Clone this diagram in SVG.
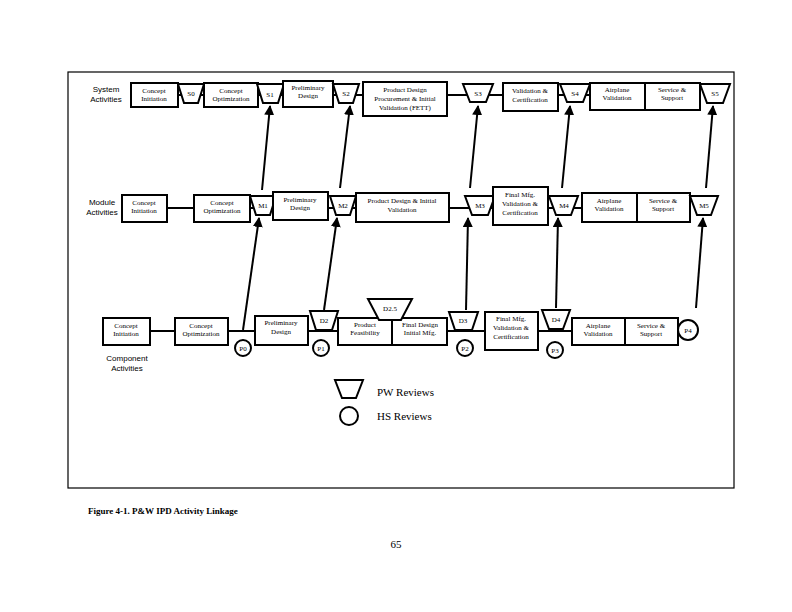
<svg xmlns="http://www.w3.org/2000/svg" width="792" height="612" viewBox="0 0 792 612">
<defs>
<style>
.b{fill:#fff;stroke:#000;stroke-width:2}
.l{stroke:#000;stroke-width:2;fill:none}
.t{font-family:"Liberation Serif",serif;font-size:7px;text-anchor:middle;fill:#000}
.s{font-family:"Liberation Sans",sans-serif;font-size:8px;text-anchor:middle;fill:#000}
</style>
<marker id="a" viewBox="0 0 10 10" refX="9" refY="5" markerWidth="5" markerHeight="5" orient="auto"><path d="M0,0L10,5L0,10z"/></marker>
</defs>
<rect width="792" height="612" fill="#fff"/>
<rect x="68" y="72" width="666" height="416" fill="none" stroke="#000" stroke-width="1.2"/>
<g id="connectors" class="l">
<path d="M178,95H204M258,95H283M333,95H362M447,95H503M558,95H590M122,208H194M250,208H273M328,208H356M449,208H493M548,208H582M150,331H175M228,331H255M308,331H338M447,331H485M538,331H572"/>
<g marker-end="url(#a)">
<line x1="243" y1="330" x2="259" y2="218"/>
<line x1="262" y1="190" x2="270" y2="106"/>
<line x1="340" y1="188" x2="350" y2="106"/>
<line x1="324" y1="310" x2="337" y2="218"/>
<line x1="466" y1="310" x2="468" y2="218"/>
<line x1="470" y1="188" x2="478" y2="106"/>
<line x1="556" y1="308" x2="558" y2="218"/>
<line x1="562" y1="188" x2="570" y2="106"/>
<line x1="696" y1="308" x2="703" y2="218"/>
<line x1="706" y1="188" x2="713" y2="106"/>
</g>
</g>
<text class="s" x="106" y="92">System</text><text class="s" x="106" y="102">Activities</text>
<text class="s" x="102" y="205">Module</text><text class="s" x="102" y="215">Activities</text>
<text class="s" x="127" y="361">Component</text><text class="s" x="127" y="371">Activities</text>
<g id="sys">
<g id="s-ci"><rect class="b" x="131" y="83" width="47" height="24"/><text class="t" x="154" y="93">Concept</text><text class="t" x="154" y="101">Initiation</text></g>
<g id="s0"><path class="b" d="M178,84H204L198,103H184Z"/><text class="t" x="191" y="96">S0</text></g>
<g id="s-co"><rect class="b" x="204" y="83" width="54" height="24"/><text class="t" x="231" y="93">Concept</text><text class="t" x="231" y="101">Optimization</text></g>
<g id="s1"><path class="b" d="M257,84H284L278,103H263Z"/><text class="t" x="270" y="97">S1</text></g>
<g id="s-pd"><rect class="b" x="283" y="81" width="50" height="26"/><text class="t" x="308" y="90">Preliminary</text><text class="t" x="308" y="98">Design</text></g>
<g id="s2"><path class="b" d="M333,84H359L353,103H339Z"/><text class="t" x="346" y="96">S2</text></g>
<g id="s-pdp"><rect class="b" x="363" y="82" width="84" height="34"/><text class="t" x="405" y="92">Product Design</text><text class="t" x="405" y="101">Procurement &amp; Initial</text><text class="t" x="405" y="110">Validation (FETT)</text></g>
<g id="s3"><path class="b" d="M463,84H493L486,102H470Z"/><text class="t" x="478" y="96">S3</text></g>
<g id="s-vc"><rect class="b" x="503" y="83" width="55" height="28"/><text class="t" x="530" y="93">Validation &amp;</text><text class="t" x="530" y="102">Certification</text></g>
<g id="s4"><path class="b" d="M560,84H590L583,102H567Z"/><text class="t" x="575" y="96">S4</text></g>
<g id="s-av"><rect class="b" x="590" y="83" width="55" height="27"/><text class="t" x="617" y="92">Airplane</text><text class="t" x="617" y="100">Validation</text></g>
<g id="s-ss"><rect class="b" x="645" y="83" width="55" height="27"/><text class="t" x="672" y="92">Service &amp;</text><text class="t" x="672" y="100">Support</text></g>
<g id="s5"><path class="b" d="M700,84H730L723,103H707Z"/><text class="t" x="715" y="96">S5</text></g>
</g>
<g id="mod">
<g id="m-ci"><rect class="b" x="122" y="195" width="45" height="27"/><text class="t" x="144" y="205">Concept</text><text class="t" x="144" y="213">Initiation</text></g>
<g id="m-co"><rect class="b" x="194" y="195" width="56" height="27"/><text class="t" x="222" y="205">Concept</text><text class="t" x="222" y="213">Optimization</text></g>
<g id="m1"><path class="b" d="M250,196H276L270,215H256Z"/><text class="t" x="263" y="208">M1</text></g>
<g id="m-pd"><rect class="b" x="273" y="192" width="55" height="28"/><text class="t" x="300" y="202">Preliminary</text><text class="t" x="300" y="210">Design</text></g>
<g id="m2"><path class="b" d="M330,196H356L350,215H336Z"/><text class="t" x="343" y="208">M2</text></g>
<g id="m-pdi"><rect class="b" x="356" y="193" width="93" height="29"/><text class="t" x="402" y="203">Product Design &amp; Initial</text><text class="t" x="402" y="212">Validation</text></g>
<g id="m3"><path class="b" d="M465,196H495L488,215H472Z"/><text class="t" x="480" y="208">M3</text></g>
<g id="m-fm"><rect class="b" x="493" y="187" width="55" height="38"/><text class="t" x="520" y="197">Final Mfg.</text><text class="t" x="520" y="206">Validation &amp;</text><text class="t" x="520" y="215">Certification</text></g>
<g id="m4"><path class="b" d="M549,196H578L571,215H556Z"/><text class="t" x="564" y="208">M4</text></g>
<g id="m-av"><rect class="b" x="582" y="193" width="55" height="29"/><text class="t" x="609" y="203">Airplane</text><text class="t" x="609" y="211">Validation</text></g>
<g id="m-ss"><rect class="b" x="637" y="193" width="53" height="29"/><text class="t" x="663" y="203">Service &amp;</text><text class="t" x="663" y="211">Support</text></g>
<g id="m5"><path class="b" d="M690,196H718L711,215H697Z"/><text class="t" x="704" y="208">M5</text></g>
</g>
<g id="comp">
<g id="c-ci"><rect class="b" x="103" y="318" width="47" height="27"/><text class="t" x="126" y="328">Concept</text><text class="t" x="126" y="336">Initiation</text></g>
<g id="c-co"><rect class="b" x="175" y="318" width="53" height="27"/><text class="t" x="201" y="328">Concept</text><text class="t" x="201" y="336">Optimization</text></g>
<g id="p0"><circle class="b" cx="243" cy="348" r="8"/><text class="t" x="243" y="351">P0</text></g>
<g id="c-pd"><rect class="b" x="255" y="316" width="53" height="29"/><text class="t" x="281" y="325">Preliminary</text><text class="t" x="281" y="334">Design</text></g>
<g id="d2"><path class="b" d="M310,311H338L332,330H316Z"/><text class="t" x="324" y="323">D2</text></g>
<g id="p1"><circle class="b" cx="321" cy="348" r="8"/><text class="t" x="321" y="351">P1</text></g>
<g id="c-pf"><rect class="b" x="338" y="318" width="54" height="27"/><text class="t" x="365" y="327">Product</text><text class="t" x="365" y="335">Feasibility</text></g>
<g id="c-fd"><rect class="b" x="392" y="318" width="55" height="27"/><text class="t" x="420" y="327">Final Design</text><text class="t" x="420" y="335">Initial Mfg.</text></g>
<g id="d25"><path class="b" d="M368,299H412L401,320H379Z"/><text class="t" x="390" y="311">D2.5</text></g>
<g id="d3"><path class="b" d="M449,312H478L472,330H455Z"/><text class="t" x="463" y="323">D3</text></g>
<g id="p2"><circle class="b" cx="465" cy="348" r="8"/><text class="t" x="465" y="351">P2</text></g>
<g id="c-fm"><rect class="b" x="485" y="312" width="53" height="38"/><text class="t" x="511" y="321">Final Mfg.</text><text class="t" x="511" y="330">Validation &amp;</text><text class="t" x="511" y="339">Certification</text></g>
<g id="d4"><path class="b" d="M542,310H570L563,329H549Z"/><text class="t" x="556" y="322">D4</text></g>
<g id="p3"><circle class="b" cx="555" cy="350" r="8"/><text class="t" x="555" y="353">P3</text></g>
<g id="c-av"><rect class="b" x="572" y="318" width="53" height="27"/><text class="t" x="598" y="328">Airplane</text><text class="t" x="598" y="336">Validation</text></g>
<g id="c-ss"><rect class="b" x="625" y="318" width="53" height="27"/><text class="t" x="651" y="328">Service &amp;</text><text class="t" x="651" y="336">Support</text></g>
<g id="p4"><circle class="b" cx="688" cy="330" r="10"/><text class="t" x="688" y="333">P4</text></g>
</g>
<g id="legend">
<path class="b" d="M335,380H363L356,398H342Z"/>
<circle class="b" cx="349" cy="416" r="9"/>
<text x="377" y="396" font-family="Liberation Serif,serif" font-size="11">PW Reviews</text>
<text x="377" y="420" font-family="Liberation Serif,serif" font-size="11">HS Reviews</text>
</g>
<text x="88" y="514" font-family="Liberation Serif,serif" font-size="9" font-weight="bold">Figure 4-1.  P&amp;W IPD Activity Linkage</text>
<text x="396" y="548" font-family="Liberation Serif,serif" font-size="11" text-anchor="middle">65</text>
</svg>
